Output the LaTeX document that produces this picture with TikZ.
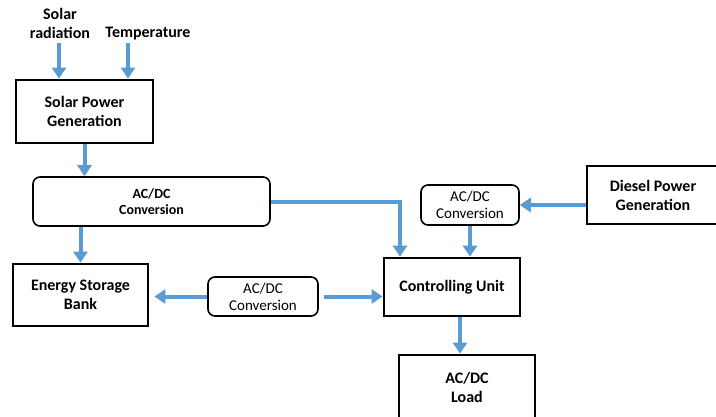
\documentclass[tikz,border=0pt]{standalone}
\usepackage{fontspec}
\setmainfont{Carlito}
\usetikzlibrary{arrows.meta}
\definecolor{flowblue}{HTML}{5B9BD5}
\tikzset{
	unitbox/.style={draw, line width=2.8pt, align=center, font=\bfseries\fontsize{16}{19}\selectfont, inner sep=0pt},
	convbox/.style={draw, line width=1.6pt, rounded corners=7pt, align=center, font=\fontsize{15}{17}\selectfont, inner sep=0pt},
	flow/.style={draw=flowblue, line width=4pt, -{Triangle[width=14pt,length=11pt]}},
	label/.style={align=center, font=\bfseries\fontsize{16}{19}\selectfont, inner sep=0pt}
}
\begin{document}
\begin{tikzpicture}[x=1pt, y=-1pt]
		\useasboundingbox (0,0) rectangle (716,416);
		
		\node [label] (rad) at (60,23) {Solar\\radiation};
		\node [label] (temp) at (148,34) {Temperature};
		\coordinate (rad0) at (59,43);
		\coordinate (temp0) at (128,43);
		
		\node [unitbox, minimum width=137, minimum height=63] (spg) at (84.5,111.5) {Solar Power\\Generation};
		\node [convbox, minimum width=237, minimum height=49, font=\bfseries\fontsize{14}{16}\selectfont] (conv1) at (151.5,201.5) {AC/DC\\Conversion};
		\node [unitbox, minimum width=135, minimum height=62] (esb) at (80.5,295) {Energy Storage\\Bank};
		\node [convbox, minimum width=110, minimum height=39] (conv2) at (263,296.5) {AC/DC\\Conversion};
		\node [unitbox, minimum width=136, minimum height=58] (cu) at (452,287) {Controlling Unit};
		\node [convbox, minimum width=98, minimum height=40] (conv3) at (470,205) {AC/DC\\Conversion};
		\node [unitbox, minimum width=132, minimum height=58] (dpg) at (653,195) {Diesel Power\\Generation};
		\node [unitbox, minimum width=136, minimum height=64] (load) at (467,387) {AC/DC\\Load};
		
		\draw [flow] (rad0) -- (rad0 |- spg.north);
		\draw [flow] (temp0) -- (temp0 |- spg.north);
		\draw [flow] (spg.south) -- (spg.south |- conv1.north);
		\draw [flow] (conv1.south -| esb.north) -- (esb.north);
		\draw [flow] (conv1.east) -| ([xshift=-52]cu.north);
		\draw [flow] (dpg.west |- conv3.east) -- (conv3.east);
		\draw [flow] (conv3.south) -- (conv3.south |- cu.north);
		\draw [flow, shorten >=5pt] (conv2.west) -- (esb.east |- conv2.west);
		\draw [flow, shorten <=5pt] (conv2.east) -- (cu.west |- conv2.east);
		\draw [flow] ([xshift=8]cu.south) -- ([xshift=8]cu.south |- load.north);
	\end{tikzpicture}
\end{document}
